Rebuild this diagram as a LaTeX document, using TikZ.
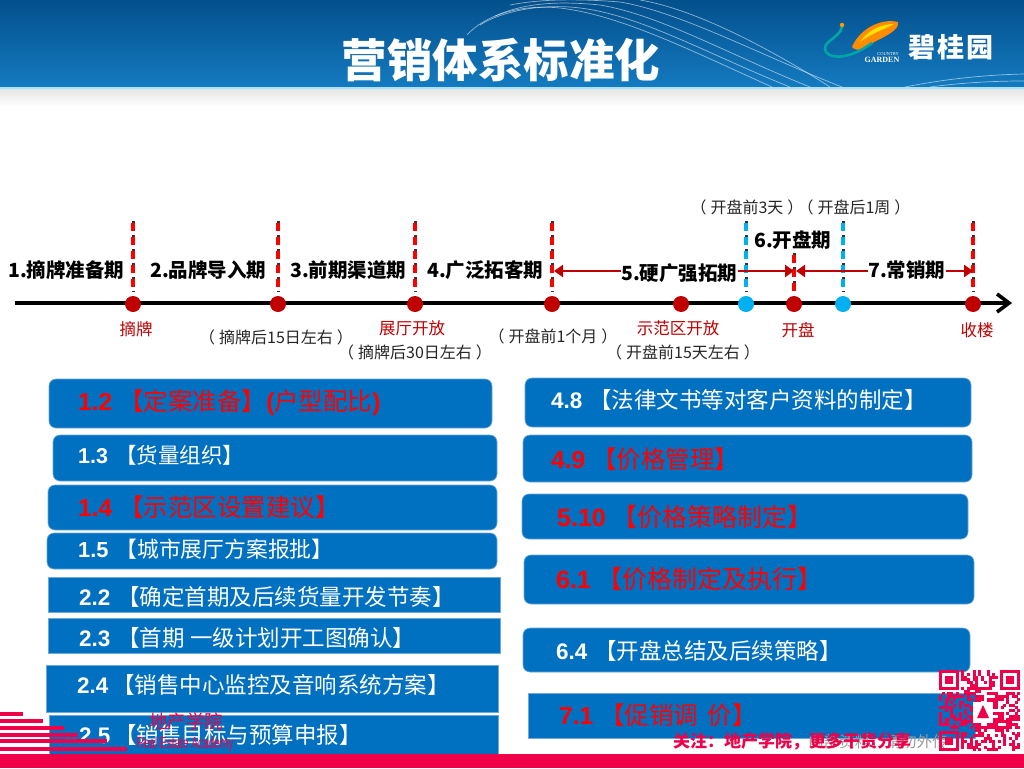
\documentclass[tikz,border=0pt]{standalone}
\usepackage{fontspec}
\setmainfont{Noto Sans CJK SC}
\newfontfamily\numfont{Liberation Sans}
\newfontfamily\logofont{Liberation Serif}
\usetikzlibrary{arrows.meta}
\newcommand{\fsize}[1]{\fontsize{#1}{#1}\selectfont}
\newcommand{\kuo}[1]{（\kern4pt#1\kern4pt）}
\newcommand{\secno}[1]{{\numfont\bfseries #1}\kern7pt}
\definecolor{boxblue}{HTML}{0070C0}
\definecolor{boxedge}{HTML}{6FA8DC}
\definecolor{darkred}{HTML}{C00000}
\definecolor{skyblue}{HTML}{00B0F0}
\definecolor{crimson}{HTML}{F00048}
\definecolor{headtop}{HTML}{03508C}
\definecolor{headlow}{HTML}{147AC0}
\tikzset{
    roundpanel/.style={fill=boxblue,draw=boxedge,line width=0.6pt,rounded corners=7pt},
    flatpanel/.style={fill=boxblue,draw=boxedge,line width=0.6pt},
    whitetext/.style={anchor=west,inner sep=0pt,text=white,font=\fsize{22.5}},
    redtext/.style={anchor=west,inner sep=0pt,text=red,font=\fsize{24.5}},
    phase/.style={anchor=west,inner sep=0pt,text=black,font=\fsize{19.5}\bfseries},
    event/.style={inner sep=0pt,text=darkred,font=\fsize{16.5}},
    timing/.style={inner sep=0pt,text=black!85,font=\fsize{16}},
    reddot/.style={circle,fill=darkred,inner sep=0pt,minimum size=16pt},
    bluedot/.style={circle,fill=skyblue,inner sep=0pt,minimum size=16pt},
    tickline/.style={line width=3.2pt,dash pattern=on 8pt off 6pt},
    span/.style={darkred,line width=2.8pt,-{Triangle[length=9pt,width=12pt]}},
    swirl/.style={white,opacity=0.55,line width=0.7pt}
}
\begin{document}
\begin{tikzpicture}[x=1pt,y=-1pt]
    \useasboundingbox (0,0) rectangle (1024,768);

    % Header band
    \fill[white] (0,0) rectangle (1024,768);
    \shade[top color=black!10,bottom color=white] (0,89) rectangle (1024,106);
    \shade[top color=headtop,bottom color=headlow] (0,0) rectangle (1024,87);
    \fill[cyan!35!white] (0,87) rectangle (1024,89);
    \draw[swirl] (467,35) .. controls (485,15) and (520,4) .. (560,8) .. controls (620,15) and (690,50) .. (772,87);
    \draw[swirl] (480,25) .. controls (500,12) and (540,3) .. (580,8) .. controls (640,15) and (710,55) .. (790,87);
    \draw[swirl] (495,16) .. controls (520,5) and (550,0) .. (600,5) .. controls (660,15) and (730,55) .. (810,87);
    \draw[swirl] (510,5) .. controls (535,0) and (570,-2) .. (620,2) .. controls (680,12) and (760,55) .. (842,87);
    \draw[swirl] (640,0) .. controls (700,10) and (780,55) .. (830,87);
    \draw[swirl] (905,87) .. controls (940,80) and (980,75) .. (1024,74);
    \draw[swirl] (930,87) .. controls (960,83) and (990,81) .. (1024,81);
    \node[inner sep=0pt,text=white,font=\fsize{45.5}\bfseries] (title) at (501,60) {营销体系标准化};

    % Logo
    \fill[orange!90!yellow] (852,47) .. controls (860,28) and (882,18) .. (898,22) .. controls (900,30) and (884,37) .. (874,42) .. controls (866,50) and (856,52) .. (852,47) -- cycle;
    \fill[yellow!85!orange] (860,42) .. controls (868,30) and (882,24) .. (894,24) .. controls (885,29) and (870,34) .. (860,42) -- cycle;
    \draw[teal!70!cyan,line width=2.6pt] (842,27) .. controls (840,38) and (820,42) .. (826,52) .. controls (832,60) and (852,58) .. (872,43);
    \fill[orange!80!yellow] (842,25) circle (2.2pt);
    \node[inner sep=0pt,text=white,font=\fsize{27}\bfseries] (logozh) at (951,47) {碧\kern2pt桂\kern2pt园};
    \node[inner sep=0pt,text=white,font=\logofont\fsize{8}\bfseries] (logoen) at (882,60) {GARDEN};
    \node[inner sep=0pt,text=white,font=\logofont\fsize{4.5}] (logoen2) at (888,54) {COUNTRY};

    % Time line
    \coordinate (start) at (15,303);
    \coordinate (end) at (1012,303);
    \draw[line width=3.6pt,-{Straight Barb[length=12pt,width=18pt,line width=3.6pt]}] (start) -- (end);

    % Ticks, each with a dark shadow
    \foreach \name/\x/\top/\col in {a/133/223/red,b/278/223/red,c/415/223/red,d/552/223/red,
                                    f/746/223/skyblue,g/794/255/red,h/843/223/skyblue,i/973/223/red}{
        \coordinate (t\name) at (\x,\top);
        \coordinate (u\name) at (\x,292);
        \draw[tickline,black!80] ([xshift=0.8pt,yshift=2pt]t\name) -- ([xshift=0.8pt]u\name);
        \draw[tickline,\col] (t\name) -- (u\name);
    }

    % Dots on the time line
    \foreach \name/\x in {a/133,b/278,c/415,d/552,e/681,g/794,i/973}
        \node[reddot] (p\name) at (\x,304) {};
    \foreach \name/\x in {f/746,h/843}
        \node[bluedot] (p\name) at (\x,304) {};

    % Phases
    \node[phase] (ph1) at (8,270) {1.摘牌准备期};
    \node[phase] (ph2) at (150,270) {2.品牌导入期};
    \node[phase] (ph3) at (290,270) {3.前期渠道期};
    \node[phase] (ph4) at (427,270) {4.广泛拓客期};
    \node[phase] (ph5) at (621,273) {5.硬广强拓期};
    \node[phase] (ph6) at (754,240) {6.开盘期};
    \node[phase] (ph7) at (868,270) {7.常销期};
    \coordinate (sd) at (554,271);
    \coordinate (sgl) at (794,271);
    \coordinate (sgr) at (796,271);
    \coordinate (si) at (973,271);
    \draw[span] (ph5.west |- sd) -- (sd);
    \draw[span] (ph5.east |- sgl) -- (sgl);
    \draw[span] (ph7.west |- sgr) -- (sgr);
    \draw[span] (ph7.east |- si) -- (si);

    % Events under the line
    \node[event] (e1) at (136,329) {摘牌};
    \node[event] (e2) at (412,328) {展厅开放};
    \node[event] (e3) at (678,328) {示范区开放};
    \node[event] (e4) at (798,330) {开盘};
    \node[event] (e5) at (977,330) {收楼};
    \node[timing] (w1) at (276,337) {\kuo{摘牌后15日左右}};
    \node[timing] (w2) at (415,352) {\kuo{摘牌后30日左右}};
    \node[timing] (w3) at (553,336) {\kuo{开盘前1个月}};
    \node[timing] (w4) at (683,352) {\kuo{开盘前15天左右}};
    \node[timing] (w5) at (747,207) {\kuo{开盘前3天}};
    \node[timing] (w6) at (854,207) {\kuo{开盘后1周}};

    % Left column
    \draw[roundpanel] (49,379) rectangle (492,428);
    \draw[roundpanel] (53,435) rectangle (497,481);
    \draw[roundpanel] (48,485) rectangle (497,530);
    \draw[roundpanel] (47,533) rectangle (497,569);
    \draw[flatpanel] (48,577) rectangle (500,612);
    \draw[flatpanel] (48,618) rectangle (500,653);
    \draw[flatpanel] (46,665) rectangle (498,712);
    \draw[flatpanel] (49,715) rectangle (498,758);
    \node[redtext] (n12) at (78,403) {\secno{1.2} 【定案准备】{\numfont\bfseries (}户型配比{\numfont\bfseries )}};
    \node[whitetext,font=\fsize{21.5}] (n13) at (78,455) {\secno{1.3} 【货量组织】};
    \node[redtext] (n14) at (78,507) {\secno{1.4} 【示范区设置建议】};
    \node[whitetext,font=\fsize{21.8}] (n15) at (78,549) {\secno{1.5} 【城市展厅方案报批】};
    \node[whitetext] (n22) at (79,597) {\secno{2.2} 【确定首期及后续货量开发节奏】};
    \node[whitetext] (n23) at (79,638) {\secno{2.3} 【首期 一级计划开工图确认】};
    \node[whitetext] (n24) at (77,685) {{\numfont\bfseries 2.4}\kern4pt【销售中心监控及音响系统方案】};
    \node[whitetext] (n25) at (79,735) {{\numfont\bfseries 2.5}\kern4pt【销售目标与预算申报】};

    % Right column
    \draw[roundpanel] (525,378) rectangle (971,427);
    \draw[roundpanel] (523,435) rectangle (972,482);
    \draw[roundpanel] (522,494) rectangle (968,539);
    \draw[roundpanel] (524,555) rectangle (974,604);
    \draw[roundpanel] (523,628) rectangle (970,672);
    \draw[flatpanel] (528,693) rectangle (975,738);
    \node[whitetext] (n48) at (551,400) {\secno{4.8} 【法律文书等对客户资料的制定】};
    \node[redtext] (n49) at (551,459) {\secno{4.9} 【价格管理】};
    \node[redtext,font=\fsize{25}] (n510) at (557,517) {\secno{5.10} 【价格策略制定】};
    \node[redtext,font=\fsize{25}] (n61) at (556,579) {\secno{6.1} 【价格制定及执行】};
    \node[whitetext] (n64) at (556,651) {\secno{6.4} 【开盘总结及后续策略】};
    \node[redtext] (n71) at (559,715) {\secno{7.1} 【促销调\kern4pt{} 价】};

    % Watermark and footer
    \node[anchor=east,inner sep=0pt,text=black!40,font=\fsize{15.5}] (mark) at (948,742) {内部资料，请勿外传};
    \node[anchor=west,inner sep=0pt,text=crimson,font=\fsize{17}\bfseries] (follow) at (673,741) {关注：地产学院，更多干货分享};
    \fill[crimson] (0,754) rectangle (1024,768);
    \foreach \y/\w in {712/23,719/43,726/64,733/78,739/107,747/127}
        \fill[crimson] (0,\y) rectangle (\w,\y+3.6);
    \node[inner sep=0pt,text=crimson,font=\fsize{18.5}] (academy) at (186,721) {地产学院};
    \node[inner sep=0pt,text=crimson,xscale=0.63,font=\numfont\fsize{16}] (academyen) at (185,744) {Real Estate Academy};

    % QR code
    \pgfmathsetseed{11}
    \foreach \i in {0,...,28}{
        \foreach \j in {0,...,28}{
            \pgfmathtruncatemacro{\qrskip}{or(or(and(\i<8,\j<8),and(\i>20,\j<8)),and(\i<8,\j>20))}
            \pgfmathtruncatemacro{\qron}{rnd>0.48}
            \ifnum\qrskip=0
                \ifnum\qron=1
                    \fill[crimson] (939+2.8*\i,670+2.8*\j) rectangle +(2.9,2.9);
                \fi
            \fi
        }
    }
    \foreach \cx/\cy in {949/680,1010/680,949/741}{
        \draw[crimson,line width=2.8pt] (\cx-8.4,\cy-8.4) rectangle (\cx+8.4,\cy+8.4);
        \fill[crimson] (\cx-4.2,\cy-4.2) rectangle (\cx+4.2,\cy+4.2);
    }
    \fill[white] (973,702) rectangle (993,723);
    \fill[crimson] (983,705) -- (989,718) -- (977,718) -- cycle;
\end{tikzpicture}
\end{document}
